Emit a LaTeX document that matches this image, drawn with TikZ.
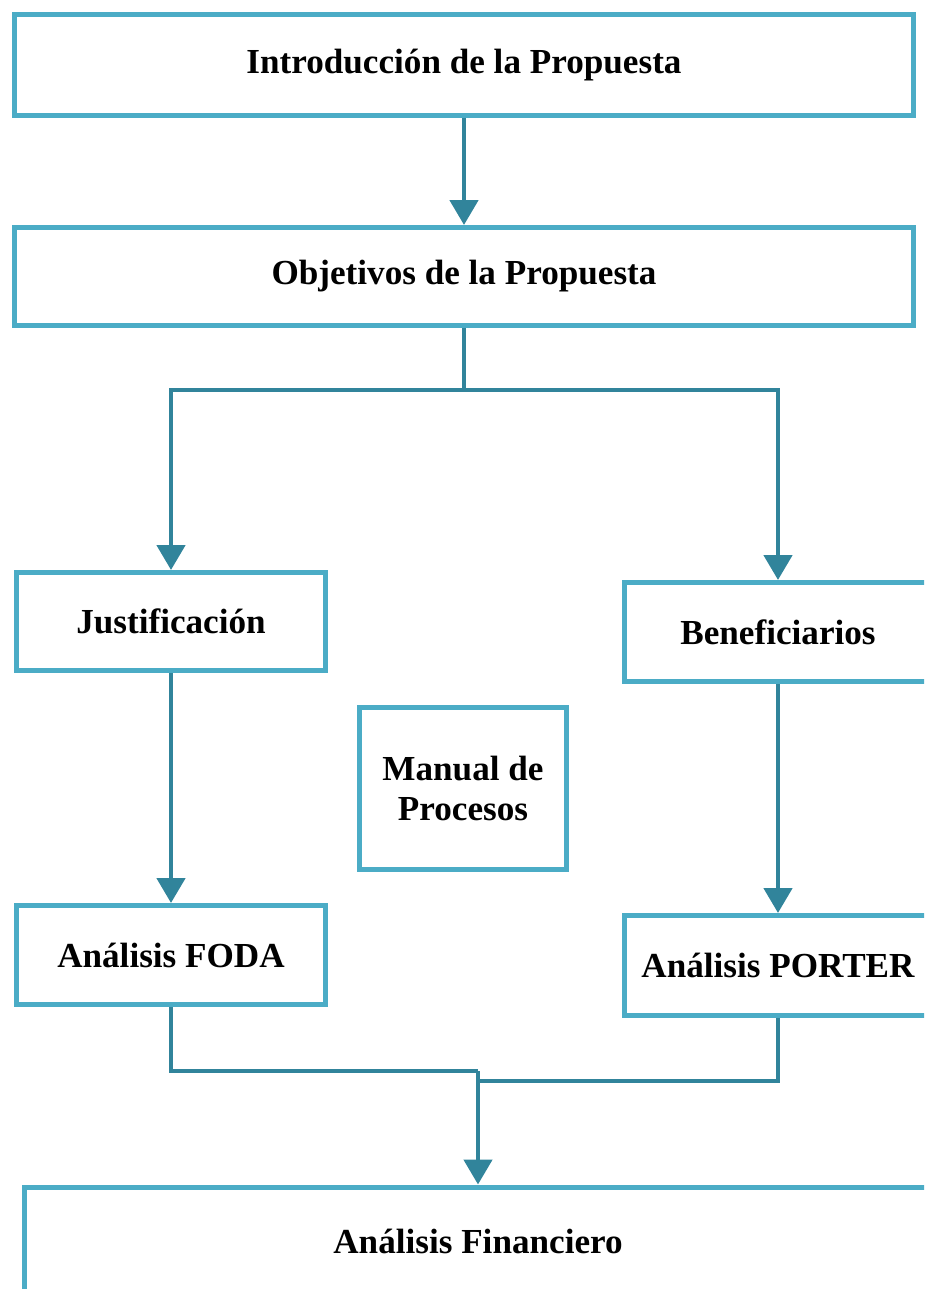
\documentclass[tikz,border=0pt]{standalone}
\usepackage{fontspec}
\setmainfont{Liberation Serif}
\usepackage{tikz}
\usetikzlibrary{arrows.meta,positioning,calc}
\definecolor{boxblue}{HTML}{4BACC6}
\definecolor{linkteal}{HTML}{31849B}

\begin{document}
\begin{tikzpicture}[x=0.02cm, y=-0.02cm,
    block/.style={draw=boxblue, line width=0.1cm, fill=white, inner sep=0pt, align=center,
        font=\fontsize{20}{23}\selectfont\bfseries},
    link/.style={draw=linkteal, line width=0.095cm},
    flow/.style={link, -{Triangle[width=0.56cm,length=0.5cm]}}]
    \useasboundingbox (0,0) rectangle (924,1289);
    \clip (0,0) rectangle (924,1289);

    \node[block, minimum width=18cm, minimum height=2.02cm] (intro) at (464,65) {Introducción de la Propuesta};
    \node[block, minimum width=18cm, minimum height=1.96cm] (obj) at (464,276.5) {Objetivos de la Propuesta};
    \node[block, minimum width=6.18cm, minimum height=1.96cm] (just) at (171,621.5) {Justificación};
    \node[block, minimum width=6.14cm, minimum height=1.98cm] (benef) at (778,632) {Beneficiarios};
    \node[block, minimum width=4.14cm, minimum height=3.24cm] (manual) at (463,788.5) {Manual de\\Procesos};
    \node[block, minimum width=6.18cm, minimum height=1.98cm] (foda) at (171,955) {Análisis FODA};
    \node[block, minimum width=6.14cm, minimum height=2cm] (porter) at (778,965.5) {Análisis PORTER};
    \node[block, minimum width=18.14cm, minimum height=2.16cm] (fin) at (478,1241) {Análisis Financiero};

    % ramas
    \coordinate (split) at ($(obj.south)+(0,62)$);
    \coordinate (joinL) at (478,1071);
    \coordinate (joinR) at (478,1081);

    \draw[flow] (intro.south) -- (obj.north);
    \draw[link] (obj.south) -- (split);
    \draw[flow] (split) -| (just.north);
    \draw[flow] (split) -| (benef.north);
    \draw[flow] (just) -- (foda);
    \draw[flow] (benef) -- (porter);
    \draw[link] (foda.south) |- (joinL);
    \draw[link] (porter.south) |- (joinR);
    \draw[flow] (joinL) -- (fin.north);
\end{tikzpicture}
\end{document}
